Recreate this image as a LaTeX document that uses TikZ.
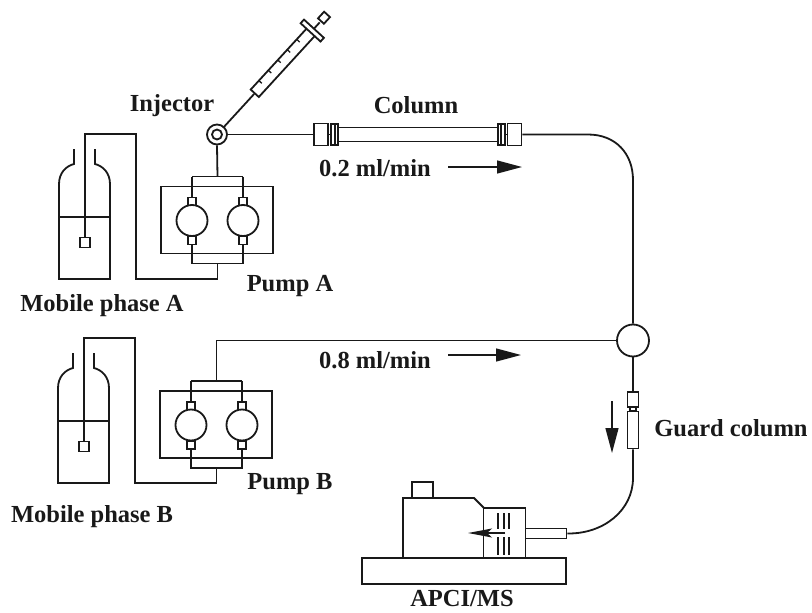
\documentclass[tikz,border=0pt]{standalone}
\usepackage{fontspec}
\setmainfont{Liberation Serif}
\usetikzlibrary{arrows.meta}
\tikzset{
  lbl/.style={font=\fontsize{24.5}{28}\selectfont\bfseries,inner sep=0pt,text=black!90},
  ln/.style={line width=1.8pt,draw=black!90,line join=miter},
  thin ln/.style={line width=1.3pt,draw=black!90},
  box/.style={ln,draw,inner sep=0pt,fill=white},
  flow/.style={line width=1.3pt,draw=black!90,-{Triangle[length=25pt,width=13pt,fill=black!90]}}
}
\newcommand{\bottle}[3]{% name, x shift, y shift of bottom reference
  \begin{scope}[shift={(#2,#3)}]
    \draw[ln] (74,-130) -- (74,-115) .. controls (66,-113) and (59,-106) .. (59,-95) -- (59,0) -- (110,0) -- (110,-95) .. controls (110,-106) and (103,-113) .. (95,-115) -- (95,-130);
    \draw[ln] (59,-62) -- (110,-62);
    \node[box,minimum width=10pt,minimum height=10pt] (#1f) at (85,-36.5) {};
    \coordinate (#1t) at (85,-145);
  \end{scope}
}
\newcommand{\pumpunit}[3]{% name, x of left, y of top of box
  \begin{scope}[shift={(#2,#3)}]
    \draw[ln] (0,0) rectangle (112,67);
    \draw[ln] (31,-10) -- (31,10) (82,-10) -- (82,10);
    \draw[ln] (31,58) -- (31,77) -- (82,77) -- (82,58);
    \draw[ln] (31,-10) -- (82,-10);
    \foreach \cx in {31,82}{
      \draw[ln,fill=white] (\cx-4,11) rectangle (\cx+4,19);
      \draw[ln,fill=white] (\cx-4,50) rectangle (\cx+4,58);
      \draw[ln,fill=white] (\cx,34) ellipse [x radius=15.5,y radius=15.5];
    }
    \coordinate (#1t) at (56.5,-10);
    \coordinate (#1b) at (56.5,77);
  \end{scope}
}
\begin{document}
\begin{tikzpicture}[x=1pt,y=-1pt]
\useasboundingbox (0,0) rectangle (812,613);
% bottles
\bottle{ba}{0}{279}
\bottle{bb}{-1}{483}
% pumps
\pumpunit{pa}{161}{186.5}
\pumpunit{pb}{160}{391}
% injector & mixer
\node[ln,draw,circle,minimum size=20pt,inner sep=0pt,fill=white] (inj) at (217,134.5) {};
\node[ln,draw,circle,minimum size=10pt,inner sep=0pt] (injc) at (217,134.5) {};
\node[ln,draw,circle,minimum size=32pt,inner sep=0pt,fill=white] (mix) at (633,340.5) {};
% bottle to pump connectors
\draw[ln] (baf.north) -- (bat) -- (136,134) -- (136,279) -- (217.5,279) -- (pab);
\draw[ln] (bbf.north) -- (bbt) -- (135,338) -- (135,483) -- (216.5,483) -- (pbb);
\draw[ln] (pat) -- (inj.south);
\draw[ln] (pbt) -- (216.5,340.5) -- (mix.west);
% syringe
\begin{scope}[shift={(217,134.5)},rotate=47.5]
  \draw[ln] (9,0) -- (55,0);
  \node[box,minimum width=84pt,minimum height=11pt,anchor=west,rotate=47.5] (barrel) at (55,0) {};
  \draw[ln] (139,0) -- (152,0);
  \node[box,minimum width=5pt,minimum height=27pt,rotate=47.5] (flange) at (141,0) {};
  \node[box,minimum width=9pt,minimum height=8pt,anchor=west,rotate=47.5] (handle) at (153,0) {};
  \foreach \t in {68,82,96,110,124} \draw[thin ln] (\t,-5.5) -- (\t,-1.5);
\end{scope}
% column
\node[box,minimum width=14pt,minimum height=22pt] (c1) at (321,134.5) {};
\node[box,minimum width=3.5pt,minimum height=21pt] (c2) at (333,134.5) {};
\node[box,minimum width=3.5pt,minimum height=21pt] (c3) at (336.5,134.5) {};
\node[box,minimum width=159pt,minimum height=14pt] (tube) at (418,134.5) {};
\node[box,minimum width=3.5pt,minimum height=21pt] (c4) at (499.5,134.5) {};
\node[box,minimum width=3.5pt,minimum height=21pt] (c5) at (503,134.5) {};
\node[box,minimum width=14pt,minimum height=22pt] (c6) at (514.5,134.5) {};
\draw[ln] (inj.east) -- (c1.west);
\draw[ln] (c1.east) -- (c2.west);
\draw[ln] (c5.east) -- (c6.west);
\draw[ln] (c6.east) -- (588,134.5) .. controls (616,134.5) and (633,154) .. (633,180) -- (mix.north);
% guard column
\node[box,minimum width=11pt,minimum height=15pt] (g1) at (633,399.5) {};
\node[box,minimum width=6pt,minimum height=4pt] (g2) at (633,409) {};
\node[box,minimum width=11pt,minimum height=37pt] (g3) at (633,430) {};
\draw[ln] (mix.south) -- (g1.north);
% MS
\node[box,minimum width=21pt,minimum height=16pt] (ms0) at (422.5,490) {};
\draw[ln,fill=white] (403,558) -- (403,498) -- (474,498) -- (484,508) -- (484,558);
\node[box,minimum width=42pt,minimum height=50pt] (ms1) at (504.5,533) {};
\node[box,minimum width=41pt,minimum height=10pt] (ms2) at (546,533.5) {};
\node[box,minimum width=204pt,minimum height=26pt] (ms3) at (464,571) {};
\draw[ln] (498,513) -- (498,529) (504,513) -- (504,529) (509,513) -- (509,529)
  (498,537) -- (498,555) (504,537) -- (504,555) (509,537) -- (509,555);
\draw[ln] (g3.south) -- (633,478) .. controls (633,510) and (604,534) .. (ms2.east);
% arrows
\coordinate (a1s) at (448,167); \coordinate (a1e) at (522,167);
\coordinate (a2s) at (448,355); \coordinate (a2e) at (521,355);
\coordinate (a3s) at (612,401); \coordinate (a3e) at (612,453);
\coordinate (a4s) at (505,533); \coordinate (a4e) at (468,533);
\draw[flow] (a1s) -- (a1e);
\draw[flow] (a2s) -- (a2e);
\draw[flow] (a3s) -- (a3e);
\draw[line width=1.3pt,draw=black!90,-{Stealth[length=24pt,width=9pt,inset=5pt,fill=black!90]}] (a4s) -- (a4e);
% labels
\node[lbl] (t1) at (172,106) {Injector};
\node[lbl] (t2) at (416,105) {Column};
\node[lbl] (t3) at (375,168) {0.2 ml/min};
\node[lbl] (t4) at (375,360) {0.8 ml/min};
\node[lbl] (t5) at (102,306) {Mobile phase A};
\node[lbl] (t6) at (290,286) {Pump A};
\node[lbl] (t7) at (92,517) {Mobile phase B};
\node[lbl] (t8) at (290,484) {Pump B};
\node[lbl] (t9) at (731,428) {Guard column};
\node[lbl] (t10) at (462,599) {APCI/MS};
\end{tikzpicture}
\end{document}
